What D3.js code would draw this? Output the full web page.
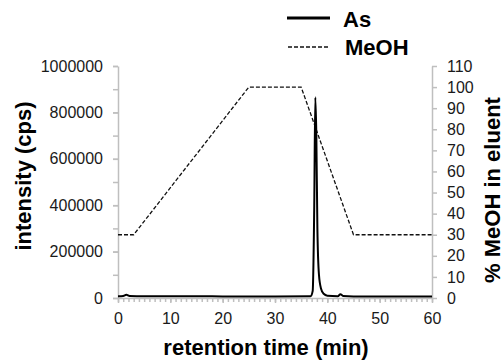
<!DOCTYPE html>
<html>
<head>
<meta charset="utf-8">
<script src="https://cdnjs.cloudflare.com/ajax/libs/d3/7.8.5/d3.min.js"></script>
<style>
  body { margin: 0; background: #fff; }
  svg { font-family: "Liberation Sans", Arial, sans-serif; }
  .axis path, .axis line { stroke: #bfbfbf; stroke-width: 1.5; }
  .axis text { font-size: 16px; fill: #1a1a1a; }
  .title { font-size: 22px; font-weight: bold; fill: #000; }
</style>
</head>
<body>
<div id="chart"></div>
<script>
// arsenic trace (cps) vs retention time (min)
const asTime = [0, 1, 1.6, 2.2, 5, 10, 20, 30, 36.8, 37.2, 37.5, 37.7, 37.9, 38.1, 38.4, 38.8, 39.3, 40, 42, 42.5, 43, 45, 50, 60];
const asCps = [8000, 9000, 14000, 9000, 8000, 8000, 7000, 7000, 8000, 30000, 400000, 865000, 700000, 300000, 100000, 40000, 18000, 10000, 8000, 16000, 9000, 7000, 7000, 7000];

// methanol gradient (% in eluent)
const meohTime = [0, 3, 25, 35, 45, 60];
const meohPct = [30, 30, 100, 100, 30, 30];

const xTicks = [0, 10, 20, 30, 40, 50, 60];
const yLeftTicks = [0, 200000, 400000, 600000, 800000, 1000000];
const yRightTicks = [0, 10, 20, 30, 40, 50, 60, 70, 80, 90, 100, 110];

const W = 504, H = 363;
const margin = {top: 66, right: 72, bottom: 65, left: 118};
const width = W - margin.left - margin.right;
const height = H - margin.top - margin.bottom;

const svg = d3.select("#chart").append("svg")
  .attr("width", W).attr("height", H);
const g = svg.append("g")
  .attr("transform", "translate(" + margin.left + "," + margin.top + ")");

const x = d3.scaleLinear().domain([0, 60]).range([0, width]);
const yL = d3.scaleLinear().domain([0, 1000000]).range([height, 0]);
const yR = d3.scaleLinear().domain([0, 110]).range([height, 0]);

// minor ticks
g.append("g").attr("class", "axis")
  .attr("transform", "translate(0," + height + ")")
  .call(d3.axisBottom(x).tickValues(d3.range(0, 61, 1)).tickSize(4).tickFormat(""))
  .select(".domain").remove();
g.append("g").attr("class", "axis")
  .call(d3.axisLeft(yL).tickValues(d3.range(0, 1000001, 100000)).tickSize(5).tickFormat(""))
  .select(".domain").remove();

// main axes
g.append("g").attr("class", "axis x")
  .attr("transform", "translate(0," + height + ")")
  .call(d3.axisBottom(x).tickValues(xTicks).tickSize(5).tickSizeOuter(0).tickPadding(10));

g.append("g").attr("class", "axis yl")
  .call(d3.axisLeft(yL).tickValues(yLeftTicks).tickSize(5).tickSizeOuter(0).tickPadding(10)
    .tickFormat(d3.format("d")));

g.append("g").attr("class", "axis yr")
  .attr("transform", "translate(" + width + ",0)")
  .call(d3.axisRight(yR).tickValues(yRightTicks).tickSize(5).tickSizeOuter(0).tickPadding(10));

// MeOH dashed line
const meohLine = d3.line()
  .x((d) => x(d[0]))
  .y((d) => yR(d[1]));
g.append("path")
  .datum(meohTime.map((t, i) => [t, meohPct[i]]))
  .attr("fill", "none")
  .attr("stroke", "#111")
  .attr("stroke-width", 1.3)
  .attr("stroke-dasharray", "4,2")
  .attr("d", meohLine);

// As solid line
const asLine = d3.line()
  .x((d) => x(d[0]))
  .y((d) => yL(d[1]))
  .curve(d3.curveMonotoneX);
g.append("path")
  .datum(asTime.map((t, i) => [t, asCps[i]]))
  .attr("fill", "none")
  .attr("stroke", "#000")
  .attr("stroke-width", 2)
  .attr("d", asLine);

// legend
const legend = svg.append("g");
legend.append("line")
  .attr("x1", 287).attr("x2", 330).attr("y1", 18).attr("y2", 18)
  .attr("stroke", "#000").attr("stroke-width", 3);
legend.append("text").attr("class", "title")
  .attr("x", 343).attr("y", 27)
  .text("As");
legend.append("line")
  .attr("x1", 288).attr("x2", 330).attr("y1", 47).attr("y2", 47)
  .attr("stroke", "#111").attr("stroke-width", 1.3).attr("stroke-dasharray", "4,2");
legend.append("text").attr("class", "title")
  .attr("x", 345).attr("y", 55)
  .text("MeOH");

// axis titles
svg.append("text").attr("class", "title")
  .attr("transform", "translate(31,176) rotate(-90)")
  .attr("text-anchor", "middle")
  .text("intensity (cps)");

svg.append("text").attr("class", "title")
  .attr("transform", "translate(500,190) rotate(-90)")
  .attr("text-anchor", "middle")
  .text("% MeOH in eluent");

svg.append("text").attr("class", "title")
  .attr("x", 266).attr("y", 355)
  .attr("text-anchor", "middle")
  .text("retention time (min)");
</script>
</body>
</html>
